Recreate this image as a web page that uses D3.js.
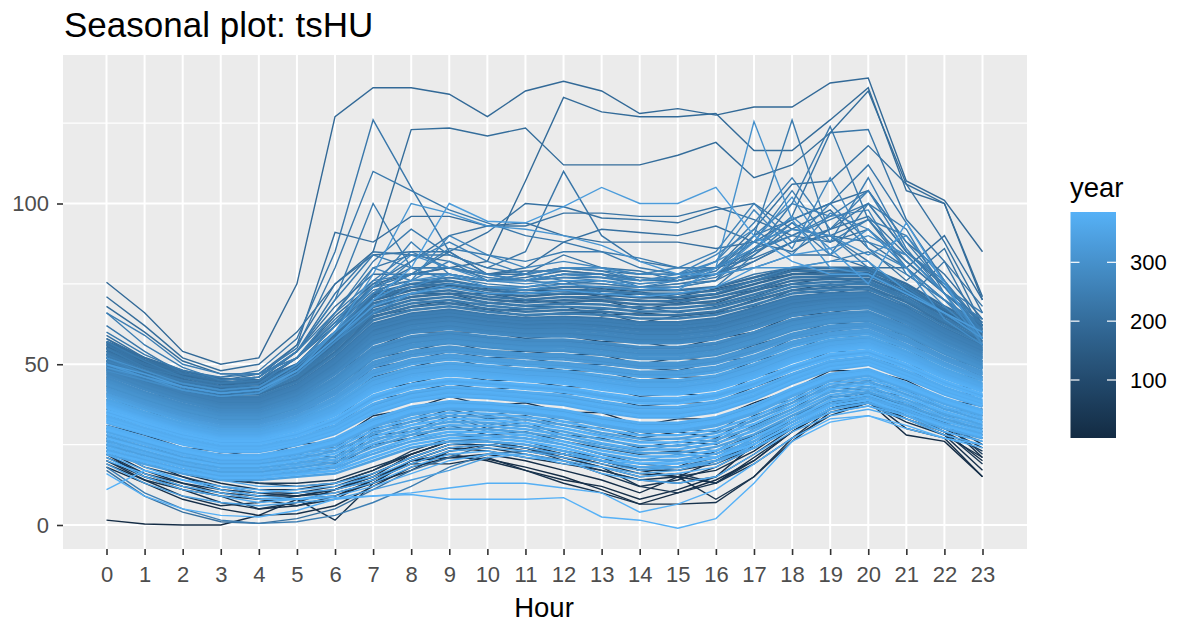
<!DOCTYPE html>
<html>
<head>
<meta charset="utf-8">
<script src="https://cdn.jsdelivr.net/npm/d3@7"></script>
<style>
  html, body { margin: 0; padding: 0; background: #fff; }
  svg { display: block; font-family: "Liberation Sans", Arial, sans-serif; }
</style>
</head>
<body>
<div id="chart"></div>
<script>
// Values. Each row is one "year" across hours 0-23.
const hours = d3.range(0, 24);
const yMajor = [0, 50, 100];
const yMinor = [25, 75, 125];
const legendTicks = [100, 200, 300];

const upperYears = [190, 200, 195, 230, 235, 205, 240, 310, 330, 215, 220, 225, 210, 225, 300, 240, 235, 225, 215, 230, 320, 205, 225, 245, 260, 250, 265, 280, 270, 255, 215, 285, 240, 290, 245, 250];
const upperValues = [
  [75.5,66,54,50,52,75,127,136,136,134,127,135,138,135,128,129.5,127.5,130,130,137.5,139,107,101,85],
  [71,62,52,48,50,60,75,85,123,123.5,121,123.5,112,112,112,115,119,108,112,122,135,106,100,71],
  [68,60,51,47,47,52,65,75,78,80,82,107,133,128.5,127,127,128,116.5,116.5,126,136,104,100,70],
  [62,54,47,46,48,58,85,126,105,85,78,76,75,76,74,73,74,78,80,80,79,72,66,60],
  [60,53,48,46,47,55,80,110,104,98,94,90,88,85,80,78,80,85,90,95,100,85,75,62],
  [58,52,47,45,46,56,91,88,96,96,93,94,90,88,88,88,86,88,95,100,104,88,78,64],
  [57,51,46,44,46,54,70,100,80,76,74,72,72,73,72,71,72,76,80,82,85,78,70,61],
  [49,46,42,40,41,48,60,78,100,97,93,92,90,87,82,78,78,80,80,82,82,73,66,58],
  [50,47,43,41,42,48,58,70,80,100,94.5,94,99,105,100,100,105,90,82,78,78,72,66,60],
  [55,50,46,44,44,50,60,72,78,85,91,100,99,95.5,95,94,98,100,92,90,88,80,70,60],
  [54,49,45,43,44,50,62,75,82,90,93,93,97,97,96,96,99,95,90,88,92,82,72,63],
  [56,50,46,44,45,52,66,80,84,84,80,85,110,90,82,80,80,83,88,90,95,80,70,62],
  [59,52,48,45,47,56,75,84,85,85,78,80,88,92,91,90,93,88,85,92,100,85,74,63],
  [57,50,47,45,46,54,72,85,84,82,76,78,84,80,79,76,78,82,88,92,96,84,72,62],
  [52,48,44,42,43,50,60,70,76,78,74,74,76,76,74,73,80,125.5,95,80,78,72,66,58],
  [53,48,44,42,44,52,64,74,76,76,74,73,74,74,74,74,76,90,126,90,80,74,66,60],
  [55,49,45,43,44,50,62,72,75,77,75,74,76,75,74,75,77,85,100,124,95,82,72,62],
  [56,50,46,44,45,52,63,74,78,78,76,76,78,77,76,76,78,86,96,122,123,95,82,68],
  [54,49,46,44,45,52,63,74,80,80,78,78,80,79,78,78,80,92,106,107,118,106,88,66],
  [53,48,45,43,44,50,62,73,76,77,76,76,77,77,75,76,79,90,95,100,112,94,76,62],
  [50,46,43,41,42,48,58,68,72,74,72,72,73,72,71,72,74,80,84,86,75,94,75,58],
  [58,51,47,44,45,54,68,78,78,80,78,79,79,78,76,77,78,80,84,84,80,80,90,70],
  [54,49,45,43,44,50,60,70,74,76,74,74,75,75,74,75,76,82,88,90,82,70,82,60],
  [52,47,44,42,43,50,60,72,78,86,84,82,85,85,83,80,80,88,104,88,95,90,74,60],
  [51,47,44,42,43,50,60,72,82,88,82,78,80,80,78,80,85,100,88,100,88,84,72,58],
  [53,48,45,43,44,52,63,76,85,80,78,76,78,78,76,77,82,94,108,92,104,85,76,60],
  [50,46,43,41,42,48,58,70,76,82,78,76,78,77,76,78,84,92,84,97,92,80,70,58],
  [49,45,42,40,41,47,57,68,74,78,76,75,76,76,75,76,80,86,96,86,90,84,72,56],
  [52,47,44,42,43,50,62,80,76,90,84,80,82,80,78,78,82,98,86,108,86,80,68,58],
  [51,47,44,42,43,50,62,74,88,78,76,76,77,76,74,76,80,90,100,96,98,78,70,60],
  [52,47,45,43,44,52,62,72,78,78,76,77,79,78,77,76,78,84,92,98,86,76,86,62],
  [50,46,43,41,42,49,60,74,84,80,76,76,80,80,76,77,82,88,92,90,84,90,76,56],
  [55,49,46,44,45,54,66,82,92,84,80,78,76,72,72,72,74,84,94,84,100,92,72,64],
  [48,45,42,40,41,47,57,66,72,75,74,73,75,74,73,74,78,88,102,84,92,80,64,56],
  [66,56,49,45,46,54,70,84,80,80,77,76,78,78,74,74,76,86,90,96,104,88,74,66],
  [66,59,50,47,47,52,66,76,78,78,76,78,80,79,76,77,80,86,94,88,108,86,72,64]
];

const bandYears = [
  205, 215, 195, 225, 210, 235, 240, 220, 245, 230,
  250, 240, 255, 235, 250, 260, 245, 265, 270, 255,
  270, 280, 285, 265, 290, 295, 285, 300, 305,
  295, 310, 315, 300, 320, 330, 335,
  320, 345, 350, 330, 355, 360, 345, 365, 370,
  375, 380, 385, 365, 360, 385, 370, 345,
  380, 370, 355, 385, 365, 375, 350, 380, 385, 360,
  355, 375, 345, 385, 350, 370, 340, 380, 360, 385,
  345, 375
];
const bandValues = [
  [57,52,48,45.5,45,50,60,72,75,76,74,73,74,74,73,73,74,77,80,80,80,75,68,62],
  [56.3,51.3,47.4,44.4,44.4,49.3,59.1,71,74,75,73,72,73,72.9,71.9,71.9,72.9,75.9,79,79.1,79.2,74.2,67.2,61.3],
  [55.6,50.7,46.7,43.8,43.8,48.6,58.2,69.9,73,74,72.1,71.1,72,71.8,70.8,70.8,71.8,74.9,78,78.2,78.3,73.4,66.5,60.6],
  [54.9,50,46.1,43.1,43.1,47.9,57.4,68.9,71.9,73,71.1,70.1,70.9,70.8,69.7,69.7,70.8,73.8,77,77.4,77.5,72.5,65.7,59.9],
  [54.2,49.4,45.4,42.5,42.5,47.2,56.5,67.8,70.9,72,70.2,69.2,69.9,69.7,68.6,68.6,69.7,72.8,76,76.5,76.6,71.7,65,59.2],
  [53.5,48.7,44.8,41.9,41.9,46.5,55.6,66.8,69.9,71,69.2,68.2,68.9,68.6,67.5,67.5,68.6,71.7,75,75.6,75.8,70.9,64.2,58.5],
  [52.8,48,44.2,41.3,41.3,45.8,54.7,65.8,68.9,70,68.2,67.2,67.9,67.5,66.4,66.4,67.5,70.6,74,74.7,75,70.1,63.4,57.8],
  [52.1,47.4,43.5,40.7,40.7,45.1,53.8,64.7,67.9,69,67.3,66.3,66.9,66.4,65.3,65.3,66.4,69.6,73,73.8,74.1,69.3,62.7,57.1],
  [51.4,46.7,42.9,40,40,44.4,53,63.7,66.8,68,66.3,65.3,65.8,65.4,64.2,64.2,65.4,68.5,72,73,73.3,68.4,61.9,56.4],
  [50.7,46.1,42.2,39.4,39.4,43.7,52.1,62.6,65.8,67,65.4,64.4,64.8,64.3,63.1,63.1,64.3,67.5,71,72.1,72.4,67.6,61.2,55.7],
  [50.4,45.7,41.9,39.1,39.1,43.4,51.6,62.1,65.3,66.5,64.9,63.9,64.3,63.7,62.6,62.6,63.7,66.9,70.5,71.6,72,67.2,60.8,55.4],
  [50,45.4,41.6,38.8,38.8,43,51.2,61.6,64.8,66,64.4,63.4,63.8,63.2,62,62,63.2,66.4,70,71.2,71.6,66.8,60.4,55],
  [49.7,45.1,41.3,38.5,38.5,42.7,50.8,61.1,64.3,65.5,63.9,62.9,63.3,62.7,61.5,61.5,62.7,65.9,69.5,70.8,71.2,66.4,60,54.7],
  [49.3,44.7,41,38.2,38.1,42.3,50.3,60.6,63.8,65,63.4,62.4,62.8,62.1,60.9,60.9,62.1,65.3,69,70.3,70.8,66,59.6,54.3],
  [49,44.4,40.6,37.9,37.8,42,49.9,60,63.3,64.5,63,62,62.3,61.6,60.4,60.4,61.6,64.8,68.5,69.9,70.4,65.6,59.3,54],
  [48.6,44.1,40.3,37.6,37.6,41.6,49.4,59.5,62.8,64,62.5,61.5,61.8,61,59.8,59.8,61,64.3,68,69.4,69.9,65.2,58.9,53.6],
  [48.3,43.8,40,37.3,37.3,41.3,49,59,62.3,63.5,62,61,61.3,60.5,59.3,59.3,60.5,63.8,67.5,69,69.5,64.8,58.5,53.3],
  [47.9,43.4,39.7,37,37,41,48.6,58.4,61.8,63,61.5,60.5,60.8,60,58.7,58.8,60,63.2,67,68.6,69.1,64.4,58.1,52.9],
  [47.6,43.1,39.3,36.6,36.7,40.6,48.1,57.9,61.2,62.5,61,60,60.2,59.4,58.2,58.2,59.4,62.7,66.5,68.1,68.7,64,57.7,52.6],
  [47.2,42.7,39,36.3,36.3,40.2,47.7,57.4,60.7,62,60.6,59.6,59.7,58.9,57.6,57.6,58.9,62.1,66,67.7,68.2,63.6,57.3,52.2],
  [46.9,42.4,38.7,36,36,39.9,47.2,56.9,60.2,61.5,60.1,59.1,59.2,58.3,57.1,57.1,58.3,61.6,65.5,67.2,67.8,63.1,57,51.9],
  [46.5,42.1,38.4,35.7,35.7,39.5,46.8,56.4,59.7,61,59.6,58.6,58.7,57.8,56.5,56.5,57.8,61.1,65,66.8,67.4,62.7,56.6,51.5],
  [45.8,41.4,37.7,35.1,35.1,38.8,45.9,55.3,58.7,60,58.6,57.6,57.7,56.7,55.4,55.4,56.7,60,64,65.9,66.5,61.9,55.9,50.8],
  [45.5,41.1,37.4,34.8,34.8,38.5,45.5,54.8,58.2,59.5,58.2,57.2,57.2,56.2,54.9,54.9,56.2,59.5,63.5,65.5,66.1,61.5,55.5,50.5],
  [45.1,40.8,37.1,34.5,34.5,38.1,45,54.3,57.7,59,57.7,56.7,56.7,55.6,54.3,54.3,55.6,59,63,65,65.7,61.1,55.1,50.1],
  [44.8,40.5,36.8,34.2,34.2,37.8,44.6,53.8,57.2,58.5,57.2,56.2,56.2,55.1,53.8,53.8,55.1,58.5,62.5,64.6,65.3,60.7,54.7,49.8],
  [44.4,40.2,36.5,33.9,33.9,37.4,44.2,53.3,56.7,58,56.7,55.7,55.7,54.6,53.2,53.3,54.6,58,62,64.2,64.9,60.3,54.3,49.4],
  [44.1,39.8,36.1,33.5,33.6,37.1,43.7,52.8,56.1,57.5,56.2,55.2,55.2,54,52.7,52.7,54,57.4,61.5,63.7,64.5,59.9,53.9,49.1],
  [43.7,39.5,35.8,33.2,33.2,36.7,43.3,52.2,55.6,57,55.8,54.8,54.6,53.5,52.1,52.1,53.5,56.9,61,63.3,64,59.5,53.6,48.7],
  [43.4,39.1,35.5,32.9,32.9,36.4,42.8,51.7,55.1,56.5,55.3,54.3,54.1,52.9,51.6,51.6,52.9,56.3,60.5,62.8,63.6,59,53.2,48.4],
  [42.7,38.5,34.9,32.3,32.3,35.7,42,50.7,54.1,55.5,54.3,53.3,53.1,51.9,50.5,50.5,51.9,55.3,59.5,62,62.8,58.2,52.4,47.7],
  [42.3,38.2,34.6,32,32,35.3,41.5,50.2,53.6,55,53.8,52.8,52.6,51.3,49.9,49.9,51.3,54.8,59,61.5,62.4,57.8,52,47.3],
  [42,37.9,34.2,31.7,31.7,35,41.1,49.6,53,54.5,53.4,52.4,52.1,50.8,49.4,49.4,50.8,54.2,58.5,61.1,62,57.4,51.7,47],
  [41.6,37.5,33.9,31.4,31.4,34.6,40.6,49.1,52.5,54,52.9,51.9,51.5,50.2,48.8,48.8,50.2,53.7,58,60.6,61.5,57,51.3,46.6],
  [40.9,36.9,33.3,30.8,30.8,33.9,39.8,48.1,51.5,53,51.9,50.9,50.5,49.2,47.7,47.8,49.2,52.7,57,59.8,60.7,56.2,50.5,45.9],
  [40.6,36.5,33,30.4,30.5,33.6,39.3,47.6,51,52.5,51.4,50.4,50,48.6,47.2,47.2,48.6,52.1,56.5,59.3,60.3,55.8,50.1,45.6],
  [40.2,36.2,32.6,30.1,30.1,33.2,38.9,47,50.5,52,51,50,49.5,48.1,46.6,46.6,48.1,51.6,56,58.9,59.8,55.3,49.8,45.2],
  [39.9,35.9,32.3,29.8,29.8,32.9,38.4,46.5,50,51.5,50.5,49.5,49,47.5,46.1,46.1,47.5,51,55.5,58.4,59.4,54.9,49.4,44.9],
  [39.2,35.2,31.7,29.2,29.2,32.2,37.6,45.5,49,50.5,49.5,48.5,48,46.5,45,45,46.5,50,54.5,57.6,58.6,54.1,48.6,44.2],
  [38.8,34.9,31.4,28.9,28.9,31.8,37.1,45,48.5,50,49,48,47.5,45.9,44.4,44.4,45.9,49.4,54,57.1,58.2,53.7,48.2,43.8],
  [38.5,34.5,31,28.6,28.6,31.5,36.7,44.4,48,49.5,48.6,47.6,47,45.4,43.9,43.9,45.4,48.9,53.5,56.7,57.7,53.3,47.9,43.5],
  [38.1,34.2,30.7,28.3,28.3,31.1,36.2,43.9,47.5,49,48.1,47.1,46.5,44.8,43.3,43.3,44.8,48.4,53,56.2,57.3,52.9,47.5,43.1],
  [37.8,33.9,30.4,28,28,30.8,35.8,43.4,47,48.5,47.6,46.6,46,44.3,42.8,42.8,44.3,47.9,52.5,55.8,56.9,52.5,47.1,42.8],
  [37.4,33.5,30.1,27.7,27.7,30.4,35.4,42.9,46.5,48,47.1,46.1,45.5,43.8,42.2,42.2,43.8,47.3,52,55.4,56.5,52.1,46.7,42.4],
  [37.1,33.2,29.8,27.3,27.4,30.1,34.9,42.4,45.9,47.5,46.6,45.6,45,43.2,41.7,41.7,43.2,46.8,51.5,54.9,56.1,51.7,46.3,42.1],
  [36.7,32.9,29.4,27,27,29.7,34.5,41.8,45.4,47,46.2,45.2,44.4,42.7,41.1,41.1,42.7,46.2,51,54.5,55.6,51.2,46,41.7],
  [36.4,32.5,29.1,26.7,26.7,29.4,34,41.3,44.9,46.5,45.7,44.7,43.9,42.1,40.6,40.6,42.1,45.7,50.5,54,55.2,50.8,45.6,41.4],
  [35.7,31.9,28.5,26.1,26.1,28.7,33.2,40.3,43.9,45.5,44.7,43.7,42.9,41.1,39.5,39.5,41.1,44.7,49.5,53.2,54.4,50,44.8,40.7],
  [35.3,31.5,28.2,25.8,25.8,28.3,32.7,39.8,43.4,45,44.2,43.2,42.4,40.5,38.9,38.9,40.5,44.1,49,52.7,54,49.6,44.4,40.3],
  [35,31.2,27.8,25.5,25.5,28,32.3,39.2,42.9,44.5,43.8,42.8,41.9,40,38.4,38.4,40,43.6,48.5,52.3,53.5,49.2,44.1,40],
  [34.6,30.9,27.5,25.2,25.2,27.6,31.8,38.7,42.4,44,43.3,42.3,41.4,39.4,37.8,37.8,39.4,43.1,48,51.8,53.1,48.8,43.7,39.6],
  [33.9,30.3,26.9,24.6,24.6,26.9,31,37.7,41.4,43,42.3,41.3,40.4,38.4,36.7,36.7,38.4,42,47,51,52.3,48,42.9,38.9],
  [33.6,29.9,26.6,24.2,24.3,26.6,30.5,37.2,40.8,42.5,41.8,40.8,39.9,37.8,36.2,36.2,37.8,41.5,46.5,50.5,51.9,47.6,42.5,38.6],
  [33.2,29.6,26.2,23.9,23.9,26.2,30.1,36.6,40.3,42,41.4,40.4,39.3,37.3,35.6,35.6,37.3,41,46,50.1,51.4,47.1,42.2,38.2],
  [32.9,29.2,25.9,23.6,23.6,25.9,29.6,36.1,39.8,41.5,40.9,39.9,38.8,36.7,35.1,35.1,36.7,40.4,45.5,49.6,51,46.7,41.8,37.9],
  [32.5,28.9,25.6,23.3,23.3,25.5,29.2,35.6,39.3,41,40.4,39.4,38.3,36.2,34.5,34.5,36.2,39.9,45,49.2,50.6,46.3,41.4,37.5],
  [32.2,28.6,25.3,23,23,25.2,28.8,35.1,38.8,40.5,39.9,38.9,37.8,35.7,34,34,35.7,39.4,44.5,48.8,50.2,45.9,41,37.2],
  [31.8,28.3,25,22.7,22.7,24.8,28.3,34.6,38.3,40,39.4,38.4,37.3,35.1,33.4,33.4,35.1,38.9,44,48.3,49.8,45.5,40.6,36.8],
  [30.8,27.3,24,21.8,21.8,23.8,27,33,36.8,38.5,38,37,35.8,33.5,31.8,31.8,33.5,37.3,42.5,47,48.5,44.3,39.5,35.8],
  [30.4,27,23.7,21.5,21.5,23.4,26.6,32.5,36.3,38,37.5,36.5,35.3,33,31.2,31.3,33,36.8,42,46.6,48.1,43.9,39.1,35.4],
  [30.1,26.6,23.4,21.1,21.2,23.1,26.1,32,35.8,37.5,37,36,34.8,32.4,30.7,30.7,32.4,36.2,41.5,46.1,47.7,43.5,38.7,35.1],
  [29.7,26.3,23,20.8,20.8,22.7,25.7,31.4,35.3,37,36.6,35.6,34.2,31.9,30.1,30.1,31.9,35.7,41,45.7,47.2,43,38.4,34.7],
  [29.4,26,22.7,20.5,20.5,22.4,25.2,30.9,34.7,36.5,36.1,35.1,33.7,31.3,29.6,29.6,31.3,35.1,40.5,45.2,46.8,42.6,38,34.4],
  [29,25.6,22.4,20.2,20.2,22,24.8,30.4,34.2,36,35.6,34.6,33.2,30.8,29,29,30.8,34.6,40,44.8,46.4,42.2,37.6,34],
  [28.3,25,21.8,19.6,19.6,21.3,23.9,29.4,33.2,35,34.6,33.6,32.2,29.7,27.9,27.9,29.7,33.5,39,43.9,45.6,41.4,36.8,33.3],
  [27.6,24.3,21.1,19,19,20.6,23,28.3,32.2,34,33.7,32.7,31.2,28.6,26.8,26.8,28.6,32.5,38,43,44.7,40.6,36.1,32.6],
  [26.9,23.7,20.5,18.4,18.4,19.9,22.2,27.3,31.1,33,32.7,31.7,30.1,27.6,25.7,25.7,27.6,31.4,37,42.2,43.9,39.8,35.3,31.9],
  [26.2,23,19.8,17.8,17.8,19.2,21.3,26.2,30.1,32,31.8,30.8,29.1,26.5,24.6,24.6,26.5,30.4,36,41.3,43,38.9,34.6,31.2],
  [25.5,22.3,19.2,17.1,17.1,18.5,20.4,25.2,29.1,31,30.8,29.8,28.1,25.4,23.5,23.5,25.4,29.3,35,40.4,42.2,38.1,33.8,30.5],
  [24.8,21.7,18.6,16.5,16.5,17.8,19.5,24.2,28.1,30,29.8,28.8,27.1,24.3,22.4,22.4,24.3,28.2,34,39.6,41.4,37.3,33,29.8],
  [24.1,21,18,15.9,15.9,17.1,18.6,23.1,27,29,28.9,27.9,26,23.2,21.3,21.3,23.2,27.2,33,38.7,40.5,36.5,32.3,29.1],
  [23.4,20.3,17.3,15.3,15.3,16.4,17.8,22.1,26,28,27.9,26.9,25,22.2,20.2,20.2,22.2,26.1,32,37.8,39.7,35.6,31.5,28.4],
  [22.7,19.7,16.7,14.6,14.7,15.7,16.9,21,25,27,27,26,24,21.1,19.1,19.1,21.1,25.1,31,37,38.8,34.8,30.8,27.7],
  [22,19,16,14,14,15,16,20,24,26,26,25,23,20,18,18,20,24,30,36,38,34,30,27]
];

// older years that only show through the gaps of the band
const streakYears = [150, 130, 170, 120, 180, 100, 160, 90, 70, 110, 55, 40, 80, 30, 60, 200, 45, 280, 65, 310, 50, 330];
const streakValues = [
  [56.5,52,47,44,45,50,59,71.5,75,74.5,73.5,73,73,73.5,72.5,71,73.5,76,79.5,79,80,74,67,62],
  [55,50,47,43,43,48,58,71,73,75,72,72,73,71,72,70,72,76,78,79,78,74,66,61],
  [54,50,45,43,43,47,58,69,72,72,72,70,71,70,70,69,71,73,77,77,78,72,66,59],
  [53,49,45,42,41,47,56,68,71,72,69,70,69,70,67,69,69,73,75,77,75,72,64,60],
  [52,48,44,41,41,46,55,66,70,69,69,68,68,67,68,66,68,71,75,74,76,70,64,57],
  [51,47,44,40,41,45,55,65,68,70,67,67,68,65,66,65,66,70,73,75,73,70,62,58],
  [51,46,43,40,39,45,53,65,67,68,67,65,66,66,63,65,66,68,73,72,74,68,63,56],
  [46,41,39,35,36,39,47,55,60,60,60,58,59,57,57,55,58,60,65,66,68,62,57,51],
  [43,39,35,33,32,37,41,52,54,57,54,54,53,53,50,52,51,56,59,63,62,59,52,49],
  [41,38,33,32,30,35,39,49,51,54,52,52,50,50,49,48,51,52,58,60,62,56,52,46],
  [39,36,31,30,29,33,37,46,49,52,49,50,48,48,45,46,46,51,54,59,58,55,48,45],
  [36,33,28,27,26,30,33,42,44,47,45,45,43,43,40,41,40,46,49,54,54,51,44,42],
  [34,31,27,25,24,28,31,39,41,44,42,43,41,40,37,38,38,43,47,51,52,49,42,40],
  [31,28,24,23,21,25,26,34,36,40,37,38,35,35,31,33,33,38,42,48,48,45,39,37],
  [30,27,23,22,20,24,24,32,35,38,36,37,34,33,30,31,31,36,41,47,47,44,38,36],
  [29,26,21,21,19,23,23,31,33,37,34,36,32,32,28,30,29,36,39,46,45,44,36,35],
  [28,25,21,20,18,22,21,30,32,36,33,34,31,30,27,29,27,34,38,45,44,42,36,34],
  [27,24,20,19,17,21,20,29,31,35,31,33,30,28,26,27,26,33,37,44,43,42,34,33],
  [26.5,23,19,18.5,16,20,19,28,29,34,30,32,28,27,24,26,25,31,36,43,42,40,34,32],
  [25,23,18,18,15,19,18,27,28,33,29,31,27,25,23,25,23,30,35,42,41,39,33,31],
  [24,21,18,16,15,17,18,25,27,31,28,29,26,24,22,23,22,28,33,40,40,38,32,30],
  [23,20.5,17,15,14.5,16,17,23,26,29,27,28,25,22,20,22,21,27,32,39,39,37,31,29]
];

const lowerYears = [5, 385, 380, 250, 210, 30, 15, 25, 40, 12, 60, 35, 20, 370, 375, 360, 365, 355, 45, 70, 50, 340, 18, 33];
const lowerValues = [
  [1.5,0.3,0,0,3,8,9,14,20,21,20.5,18,15,11,6.5,10,14,20,29,36,38.5,28,26,15],
  [11,17,14,11,9,8,8.5,9,9.5,8,8,8,8.5,2.5,1.5,-1,2,13,26,32,34,31,27,25],
  [16,9,5,3,2.5,4.5,8,9,10,11.5,13,13,11.5,10,4,6.5,11,19,27,33,34,30,27,24],
  [18,10,5,1.5,0.5,1,3,7,12,18,22,23,22,20,18,17,20,26,33,37,39,35,30,26],
  [17,9,4,1,0.5,2,5,11,17,21,25,24,22,20,17,18,21,27,34,38,40,36,31,27],
  [20,14,11,9,8,8,1.5,13,20,24,23,21,19,17,14,15,8,15,27,36,39,33,28,21],
  [22,15,11,7,5,6,9,13,20,22,20,17,14,12,8,11,15,25,33,37,39,30,27,15],
  [19,14,9,6,7,9,11,14,19,19,21,17,13,10,6.5,6.5,7,15,26,35,38,32,28,17],
  [21,16,12,9,5,7,11,15,19,23,24,22,20,16,12,14,18,24,31,37,40,34,29,19],
  [18,13,8,5,3,3.5,6,12,18,21,22,20,17,14,10,15,20,26,33,38,41,35,29,20],
  [24,18,15,12,10,10,12,16,21,25,26,24,20,17,14,13,15,22,30,36,40,36,32,22],
  [23,17,13,11,10,9,10,13,17,23,25,24,21,18,12,10,13,20,29,36,39,34,30,24],
  [25,20,15,11,9,9,11,15,22,26,26,24,22,19,16,15,17,23,31,37,41,36,31,28],
  [21,15,11,9,7,8,10,13,18,22,23,21,20,16,14,13,15,22,29,34,36,33,28,25],
  [20,16,12,10,8,8,9,12,16,20,22,22,19,18,15,16,18,24,30,35,37,34,29,26],
  [24,18,14,12,11,10,11,14,19,23,24,23,21,19,17,18,19,25,31,36,38,35,30,27],
  [22,17,14,12,10,11,12,15,20,24,25,24,22,20,18,19,21,26,32,37,39,36,31,27],
  [25,20,17,14,12,12,13,16,21,25,26,25,23,20,19,20,21,27,33,37,39,35,31,28],
  [26,20,17,14,13,13,14,18,22,26,27,26,23,21,17,17,19,24,31,37,40,36,31,27],
  [27,21,18,15,13,12,13,17,23,27,28,27,25,22,19,18,20,25,32,38,41,37,33,29],
  [20,15,12,10,9,10,11,16,21,25,25,23,21,18,15,16,13,19,27,34,38,33,29,23],
  [19,13,9,7,6,7,8,11,14,17,21,22,20,18,16,17,20,24,30,35,37,33,29,26],
  [24,19,16,13,11,11,13,17,22,26,26,25,22,20,17,15,13,21,29,36,40,35,32,21],
  [22,16,13,10,8,6,8,14,20,24,25,24,22,20,17,18,23,28,34,38,41,37,32,25]
];

const W = 1186, H = 623;
const panel = { left: 63, right: 1027, top: 55, bottom: 549 };
const thinLine = 1.4, bandLine = 2.5;

const x = d3.scaleLinear().domain([0, 23]).range([106.5, 982.5]);
const y = d3.scaleLinear().domain([0, 100]).range([525, 203.5]);
const color = d3.scaleLinear().domain([1, 385]).range(["#132B43", "#56B1F7"]).interpolate(d3.interpolateLab);

const svg = d3.select("#chart").append("svg").attr("width", W).attr("height", H);

svg.append("rect").attr("x", panel.left).attr("y", panel.top)
  .attr("width", panel.right - panel.left).attr("height", panel.bottom - panel.top)
  .attr("fill", "#EBEBEB");

// grid
const grid = svg.append("g").attr("stroke", "#fff").attr("fill", "none");
grid.selectAll("line.minor").data(yMinor).join("line").attr("class", "minor")
  .attr("x1", panel.left).attr("x2", panel.right).attr("y1", d => y(d)).attr("y2", d => y(d)).attr("stroke-width", 1.4);
grid.selectAll("line.major").data(yMajor).join("line").attr("class", "major")
  .attr("x1", panel.left).attr("x2", panel.right).attr("y1", d => y(d)).attr("y2", d => y(d)).attr("stroke-width", 2);
grid.selectAll("line.hour").data(hours).join("line").attr("class", "hour")
  .attr("x1", d => x(d)).attr("x2", d => x(d)).attr("y1", panel.top).attr("y2", panel.bottom).attr("stroke-width", 2);

// lines, oldest first so the light years end up on top
const series = [];
upperValues.forEach((v, i) => series.push({ year: upperYears[i], values: v, width: thinLine }));
bandValues.forEach((v, i) => series.push({ year: bandYears[i], values: v, width: bandLine }));
streakValues.forEach((v, i) => series.push({ year: streakYears[i], values: v, width: thinLine }));
lowerValues.forEach((v, i) => series.push({ year: lowerYears[i], values: v, width: thinLine }));
series.sort((a, b) => a.year - b.year);

const line = d3.line().x((d, i) => x(hours[i])).y(d => y(d));
svg.append("g").attr("fill", "none").style("filter", "blur(0.3px)")
  .selectAll("path").data(series).join("path")
  .attr("d", d => line(d.values))
  .attr("stroke", d => color(d.year))
  .attr("stroke-width", d => d.width);

// axes
const xAxis = svg.append("g").attr("transform", `translate(0,${panel.bottom})`)
  .call(d3.axisBottom(x).tickValues(hours).tickFormat(d3.format("d")).tickSize(6).tickPadding(11));
const yAxis = svg.append("g").attr("transform", `translate(${panel.left},0)`)
  .call(d3.axisLeft(y).tickValues(yMajor).tickFormat(d3.format("d")).tickSize(6).tickPadding(8));
[xAxis, yAxis].forEach(a => {
  a.select(".domain").remove();
  a.selectAll("line").attr("stroke", "#333").attr("stroke-width", 1.6);
  a.selectAll("text").attr("fill", "#4D4D4D").style("font-size", "22px").style("font-family", "inherit");
});

svg.append("text").attr("x", 64).attr("y", 37).attr("font-size", 35).attr("fill", "#000").text("Seasonal plot: tsHU");
svg.append("text").attr("x", 544).attr("y", 617).attr("text-anchor", "middle").attr("font-size", 27.5).attr("fill", "#000").text("Hour");
svg.append("text").attr("x", 1070).attr("y", 197).attr("font-size", 27.5).attr("fill", "#000").text("year");

// legend colour bar
const legendY = d3.scaleLinear().domain([100, 300]).range([380, 262.3]);
const barX = 1070.5, barW = 45.5, barTop = 212, barBottom = 438;
const defs = svg.append("defs");
const grad = defs.append("linearGradient").attr("id", "yearBar")
  .attr("x1", 0).attr("x2", 0).attr("y1", 1).attr("y2", 0);
d3.range(0, 1.001, 0.05).forEach(t => {
  grad.append("stop").attr("offset", t).attr("stop-color", color(1 + t * 384));
});
svg.append("rect").attr("x", barX).attr("y", barTop).attr("width", barW)
  .attr("height", barBottom - barTop).attr("fill", "url(#yearBar)");
const legendG = svg.append("g");
legendTicks.forEach(t => {
  const py = legendY(t);
  legendG.append("line").attr("x1", barX).attr("x2", barX + 9).attr("y1", py).attr("y2", py).attr("stroke", "#fff").attr("stroke-width", 1.2);
  legendG.append("line").attr("x1", barX + barW - 9).attr("x2", barX + barW).attr("y1", py).attr("y2", py).attr("stroke", "#fff").attr("stroke-width", 1.2);
  legendG.append("text").attr("x", 1130).attr("y", py).attr("dy", "0.36em").attr("font-size", 22).attr("fill", "#000").text(t);
});
</script>
</body>
</html>
